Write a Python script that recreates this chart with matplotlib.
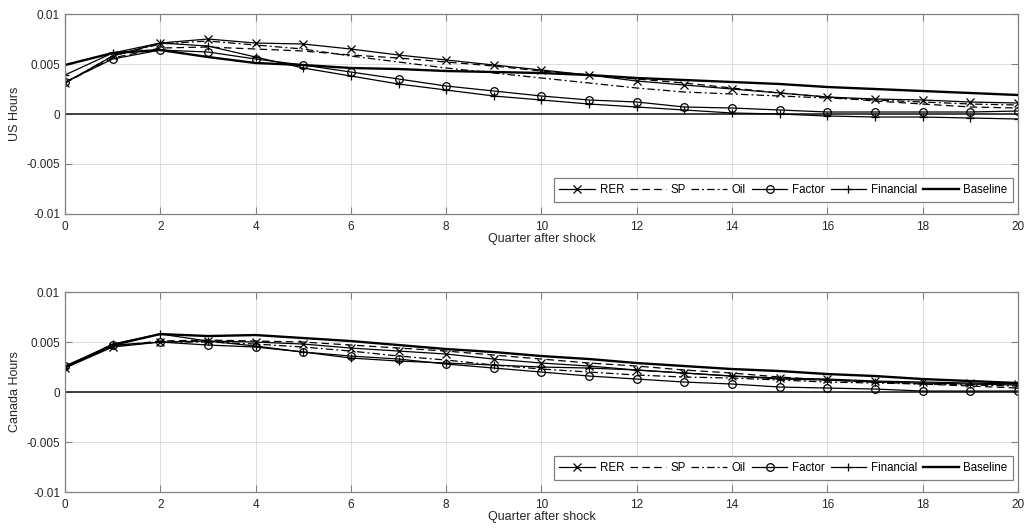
import matplotlib
matplotlib.use("Agg")
import matplotlib.pyplot as plt
import numpy as np

quarters = np.arange(21)

# US hours responses
us_rer = [0.0031, 0.0058, 0.0071, 0.0075, 0.0071, 0.0070, 0.0065, 0.0059, 0.0054, 0.0049,
          0.0044, 0.0039, 0.0033, 0.0029, 0.0025, 0.0021, 0.0017, 0.0015, 0.0014, 0.0012, 0.0011]
us_sp = [0.0031, 0.0056, 0.0066, 0.0067, 0.0065, 0.0063, 0.0059, 0.0056, 0.0052, 0.0048,
         0.0043, 0.0039, 0.0035, 0.0031, 0.0026, 0.0021, 0.0017, 0.0013, 0.0010, 0.0007, 0.0006]
us_oil = [0.0031, 0.0058, 0.0070, 0.0073, 0.0069, 0.0065, 0.0058, 0.0052, 0.0046, 0.0041,
          0.0036, 0.0031, 0.0026, 0.0022, 0.0020, 0.0018, 0.0016, 0.0014, 0.0012, 0.0010, 0.0009]
us_factor = [0.0032, 0.0055, 0.0064, 0.0062, 0.0055, 0.0049, 0.0042, 0.0035, 0.0028, 0.0023,
             0.0018, 0.0014, 0.0012, 0.0007, 0.0006, 0.0004, 0.0002, 0.0002, 0.0002, 0.0002, 0.0003]
us_financial = [0.0039, 0.0061, 0.0071, 0.0068, 0.0057, 0.0046, 0.0038, 0.0030, 0.0024, 0.0018,
                0.0014, 0.0010, 0.0007, 0.0004, 0.0001, 0.0000, -0.0002, -0.0003, -0.0003, -0.0004, -0.0005]
us_baseline = [0.0049, 0.0061, 0.0064, 0.0057, 0.0051, 0.0049, 0.0046, 0.0045, 0.0043, 0.0042,
               0.0041, 0.0039, 0.0036, 0.0034, 0.0032, 0.0030, 0.0027, 0.0025, 0.0023, 0.0021, 0.0019]

# Canada hours responses
ca_rer = [0.0024, 0.0045, 0.0050, 0.0051, 0.0050, 0.0048, 0.0044, 0.0041, 0.0038, 0.0033,
          0.0029, 0.0026, 0.0022, 0.0019, 0.0016, 0.0014, 0.0013, 0.0011, 0.0010, 0.0009, 0.0008]
ca_sp = [0.0025, 0.0046, 0.0051, 0.0052, 0.0051, 0.0050, 0.0047, 0.0044, 0.0041, 0.0037,
         0.0033, 0.0029, 0.0026, 0.0022, 0.0019, 0.0015, 0.0012, 0.0010, 0.0008, 0.0006, 0.0004]
ca_oil = [0.0025, 0.0046, 0.0050, 0.0050, 0.0048, 0.0045, 0.0041, 0.0036, 0.0032, 0.0027,
          0.0023, 0.0020, 0.0017, 0.0015, 0.0014, 0.0012, 0.0010, 0.0009, 0.0008, 0.0007, 0.0006]
ca_factor = [0.0026, 0.0047, 0.0050, 0.0047, 0.0045, 0.0040, 0.0036, 0.0033, 0.0028, 0.0024,
             0.0020, 0.0016, 0.0013, 0.0010, 0.0008, 0.0005, 0.0004, 0.0003, 0.0001, 0.0001, 0.0001]
ca_financial = [0.0024, 0.0048, 0.0058, 0.0051, 0.0046, 0.0040, 0.0034, 0.0031, 0.0029, 0.0027,
                0.0025, 0.0024, 0.0022, 0.0019, 0.0016, 0.0013, 0.0012, 0.0010, 0.0009, 0.0008, 0.0007]
ca_baseline = [0.0025, 0.0047, 0.0058, 0.0056, 0.0057, 0.0054, 0.0051, 0.0047, 0.0043, 0.0040,
               0.0036, 0.0033, 0.0029, 0.0026, 0.0023, 0.0021, 0.0018, 0.0016, 0.0013, 0.0011, 0.0009]

labels = ["RER", "SP", "Oil", "Factor", "Financial", "Baseline"]
styles = [
    dict(linestyle="-", marker="x", lw=0.9),
    dict(linestyle=(0, (6, 3.5)), marker=None, lw=0.9),
    dict(linestyle=(0, (6, 2.5, 1.5, 2.5)), marker=None, lw=0.9),
    dict(linestyle="-", marker="o", mfc="none", lw=0.9),
    dict(linestyle="-", marker="+", lw=0.9),
    dict(linestyle="-", marker=None, lw=1.7),
]

plt.rcParams["font.family"] = ["Liberation Sans", "DejaVu Sans"]
fig = plt.figure(figsize=(10.28, 5.31), dpi=100)
ax_top = fig.add_axes([0.0632, 0.597, 0.927, 0.3766])
ax_bot = fig.add_axes([0.0632, 0.0734, 0.927, 0.3766])

panels = [
    (ax_top, "US Hours", [us_rer, us_sp, us_oil, us_factor, us_financial, us_baseline]),
    (ax_bot, "Canada Hours", [ca_rer, ca_sp, ca_oil, ca_factor, ca_financial, ca_baseline]),
]

axis_grey = "#808080"
text_grey = "#262626"

for ax, ylabel, series in panels:
    for vals, lab, st in zip(series, labels, styles):
        ax.plot(quarters, vals, color="black", label=lab, markersize=5.5,
                markeredgewidth=0.9, **st)
    ax.axhline(0, color="#333333", lw=1.3, zorder=1)
    ax.set_xlim(0, 20)
    ax.set_ylim(-0.01, 0.01)
    ax.set_xticks(np.arange(0, 21, 2))
    ax.set_yticks([-0.01, -0.005, 0, 0.005, 0.01])
    ax.set_yticklabels(["-0.01", "-0.005", "0", "0.005", "0.01"])
    ax.grid(True, color="#dcdcdc", lw=0.7)
    ax.set_axisbelow(True)
    ax.tick_params(direction="in", top=True, right=True, length=5, width=0.8,
                   color=axis_grey, labelcolor=text_grey, labelsize=8.5)
    ax.tick_params(axis="x", pad=5)
    for sp in ax.spines.values():
        sp.set_color(axis_grey)
        sp.set_linewidth(0.9)
    ax.set_ylabel(ylabel, fontsize=9, color=text_grey, labelpad=4)
    ax.set_xlabel("Quarter after shock", fontsize=9, color=text_grey, labelpad=0)
    leg = ax.legend(loc="lower right", bbox_to_anchor=(0.995, 0.06), ncol=6,
                    fontsize=8.3, frameon=True, fancybox=False,
                    handlelength=3.1, handletextpad=0.4, columnspacing=0.5,
                    borderpad=0.5, borderaxespad=0, framealpha=1)
    leg.get_frame().set_edgecolor(axis_grey)
    leg.get_frame().set_linewidth(0.9)

fig.savefig("out.png", dpi=100)
